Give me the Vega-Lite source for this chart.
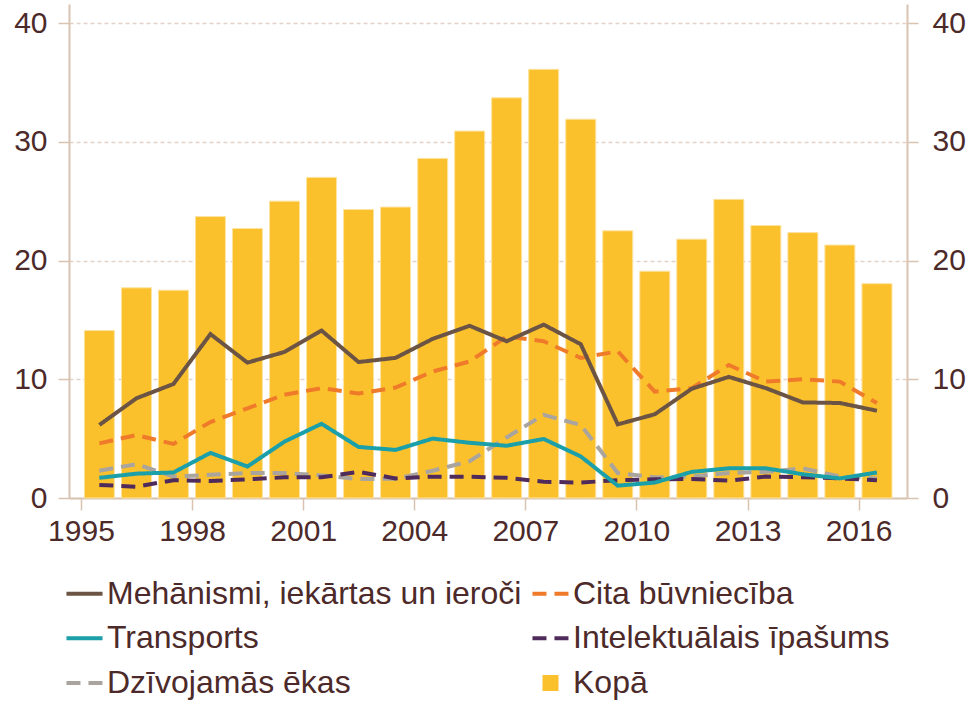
{
  "$schema": "https://vega.github.io/schema/vega-lite/v6.json",
  "width": 838,
  "height": 494,
  "autosize": {"type": "pad"},
  "padding": {"left": 13, "top": 4, "right": 0, "bottom": 0},
  "background": "white",
  "config": {
    "font": "Liberation Sans",
    "view": {"stroke": null},
    "axis": {
      "labelFont": "Liberation Sans",
      "labelFontSize": 30,
      "labelColor": "#4d2a2a",
      "domainColor": "#d9c3b1",
      "domainWidth": 2,
      "tickColor": "#d9c3b1",
      "tickWidth": 1.5,
      "tickSize": 11,
      "title": null,
      "gridColor": "#e3d2c5",
      "gridDash": [4, 3],
      "gridWidth": 1.5
    },
    "legend": {
      "orient": "none",
      "legendX": -5,
      "legendY": 569,
      "columns": 2,
      "columnPadding": 2,
      "rowPadding": 7.8,
      "labelFont": "Liberation Sans",
      "labelFontSize": 32,
      "labelColor": "#4d2a2a",
      "labelOffset": 2,
      "labelLimit": 0,
      "symbolStrokeWidth": 4,
      "symbolOpacity": 1,
      "padding": 0
    }
  },
  "data": {
    "values": [
      {"year": "1995-07-01", "series": "Kopā", "value": 14.1},
      {"year": "1996-07-01", "series": "Kopā", "value": 17.7},
      {"year": "1997-07-01", "series": "Kopā", "value": 17.5},
      {"year": "1998-07-01", "series": "Kopā", "value": 23.7},
      {"year": "1999-07-01", "series": "Kopā", "value": 22.7},
      {"year": "2000-07-01", "series": "Kopā", "value": 25.0},
      {"year": "2001-07-01", "series": "Kopā", "value": 27.0},
      {"year": "2002-07-01", "series": "Kopā", "value": 24.3},
      {"year": "2003-07-01", "series": "Kopā", "value": 24.5},
      {"year": "2004-07-01", "series": "Kopā", "value": 28.6},
      {"year": "2005-07-01", "series": "Kopā", "value": 30.9},
      {"year": "2006-07-01", "series": "Kopā", "value": 33.7},
      {"year": "2007-07-01", "series": "Kopā", "value": 36.1},
      {"year": "2008-07-01", "series": "Kopā", "value": 31.9},
      {"year": "2009-07-01", "series": "Kopā", "value": 22.5},
      {"year": "2010-07-01", "series": "Kopā", "value": 19.1},
      {"year": "2011-07-01", "series": "Kopā", "value": 21.8},
      {"year": "2012-07-01", "series": "Kopā", "value": 25.15},
      {"year": "2013-07-01", "series": "Kopā", "value": 22.95},
      {"year": "2014-07-01", "series": "Kopā", "value": 22.35},
      {"year": "2015-07-01", "series": "Kopā", "value": 21.3},
      {"year": "2016-07-01", "series": "Kopā", "value": 18.05},

      {"year": "1995-07-01", "series": "Dzīvojamās ēkas", "value": 2.3},
      {"year": "1996-07-01", "series": "Dzīvojamās ēkas", "value": 2.85},
      {"year": "1997-07-01", "series": "Dzīvojamās ēkas", "value": 1.8},
      {"year": "1998-07-01", "series": "Dzīvojamās ēkas", "value": 1.95},
      {"year": "1999-07-01", "series": "Dzīvojamās ēkas", "value": 2.1},
      {"year": "2000-07-01", "series": "Dzīvojamās ēkas", "value": 2.1},
      {"year": "2001-07-01", "series": "Dzīvojamās ēkas", "value": 1.9},
      {"year": "2002-07-01", "series": "Dzīvojamās ēkas", "value": 1.6},
      {"year": "2003-07-01", "series": "Dzīvojamās ēkas", "value": 1.62},
      {"year": "2004-07-01", "series": "Dzīvojamās ēkas", "value": 2.3},
      {"year": "2005-07-01", "series": "Dzīvojamās ēkas", "value": 3.1},
      {"year": "2006-07-01", "series": "Dzīvojamās ēkas", "value": 5.1},
      {"year": "2007-07-01", "series": "Dzīvojamās ēkas", "value": 7.0},
      {"year": "2008-07-01", "series": "Dzīvojamās ēkas", "value": 6.15},
      {"year": "2009-07-01", "series": "Dzīvojamās ēkas", "value": 2.1},
      {"year": "2010-07-01", "series": "Dzīvojamās ēkas", "value": 1.74},
      {"year": "2011-07-01", "series": "Dzīvojamās ēkas", "value": 1.8},
      {"year": "2012-07-01", "series": "Dzīvojamās ēkas", "value": 2.1},
      {"year": "2013-07-01", "series": "Dzīvojamās ēkas", "value": 2.2},
      {"year": "2014-07-01", "series": "Dzīvojamās ēkas", "value": 2.5},
      {"year": "2015-07-01", "series": "Dzīvojamās ēkas", "value": 1.8},
      {"year": "2016-07-01", "series": "Dzīvojamās ēkas", "value": 1.65},

      {"year": "1995-07-01", "series": "Intelektuālais īpašums", "value": 1.1},
      {"year": "1996-07-01", "series": "Intelektuālais īpašums", "value": 0.95},
      {"year": "1997-07-01", "series": "Intelektuālais īpašums", "value": 1.5},
      {"year": "1998-07-01", "series": "Intelektuālais īpašums", "value": 1.43},
      {"year": "1999-07-01", "series": "Intelektuālais īpašums", "value": 1.57},
      {"year": "2000-07-01", "series": "Intelektuālais īpašums", "value": 1.74},
      {"year": "2001-07-01", "series": "Intelektuālais īpašums", "value": 1.74},
      {"year": "2002-07-01", "series": "Intelektuālais īpašums", "value": 2.2},
      {"year": "2003-07-01", "series": "Intelektuālais īpašums", "value": 1.65},
      {"year": "2004-07-01", "series": "Intelektuālais īpašums", "value": 1.8},
      {"year": "2005-07-01", "series": "Intelektuālais īpašums", "value": 1.8},
      {"year": "2006-07-01", "series": "Intelektuālais īpašums", "value": 1.7},
      {"year": "2007-07-01", "series": "Intelektuālais īpašums", "value": 1.37},
      {"year": "2008-07-01", "series": "Intelektuālais īpašums", "value": 1.3},
      {"year": "2009-07-01", "series": "Intelektuālais īpašums", "value": 1.5},
      {"year": "2010-07-01", "series": "Intelektuālais īpašums", "value": 1.57},
      {"year": "2011-07-01", "series": "Intelektuālais īpašums", "value": 1.6},
      {"year": "2012-07-01", "series": "Intelektuālais īpašums", "value": 1.46},
      {"year": "2013-07-01", "series": "Intelektuālais īpašums", "value": 1.8},
      {"year": "2014-07-01", "series": "Intelektuālais īpašums", "value": 1.75},
      {"year": "2015-07-01", "series": "Intelektuālais īpašums", "value": 1.65},
      {"year": "2016-07-01", "series": "Intelektuālais īpašums", "value": 1.5},

      {"year": "1995-07-01", "series": "Cita būvniecība", "value": 4.6},
      {"year": "1996-07-01", "series": "Cita būvniecība", "value": 5.3},
      {"year": "1997-07-01", "series": "Cita būvniecība", "value": 4.55},
      {"year": "1998-07-01", "series": "Cita būvniecība", "value": 6.4},
      {"year": "1999-07-01", "series": "Cita būvniecība", "value": 7.55},
      {"year": "2000-07-01", "series": "Cita būvniecība", "value": 8.7},
      {"year": "2001-07-01", "series": "Cita būvniecība", "value": 9.25},
      {"year": "2002-07-01", "series": "Cita būvniecība", "value": 8.8},
      {"year": "2003-07-01", "series": "Cita būvniecība", "value": 9.3},
      {"year": "2004-07-01", "series": "Cita būvniecība", "value": 10.65},
      {"year": "2005-07-01", "series": "Cita būvniecība", "value": 11.5},
      {"year": "2006-07-01", "series": "Cita būvniecība", "value": 13.6},
      {"year": "2007-07-01", "series": "Cita būvniecība", "value": 13.2},
      {"year": "2008-07-01", "series": "Cita būvniecība", "value": 11.8},
      {"year": "2009-07-01", "series": "Cita būvniecība", "value": 12.35},
      {"year": "2010-07-01", "series": "Cita būvniecība", "value": 8.95},
      {"year": "2011-07-01", "series": "Cita būvniecība", "value": 9.25},
      {"year": "2012-07-01", "series": "Cita būvniecība", "value": 11.2},
      {"year": "2013-07-01", "series": "Cita būvniecība", "value": 9.8},
      {"year": "2014-07-01", "series": "Cita būvniecība", "value": 10.0},
      {"year": "2015-07-01", "series": "Cita būvniecība", "value": 9.8},
      {"year": "2016-07-01", "series": "Cita būvniecība", "value": 8.0},

      {"year": "1995-07-01", "series": "Transports", "value": 1.7},
      {"year": "1996-07-01", "series": "Transports", "value": 2.05},
      {"year": "1997-07-01", "series": "Transports", "value": 2.15},
      {"year": "1998-07-01", "series": "Transports", "value": 3.8},
      {"year": "1999-07-01", "series": "Transports", "value": 2.65},
      {"year": "2000-07-01", "series": "Transports", "value": 4.75},
      {"year": "2001-07-01", "series": "Transports", "value": 6.25},
      {"year": "2002-07-01", "series": "Transports", "value": 4.3},
      {"year": "2003-07-01", "series": "Transports", "value": 4.05},
      {"year": "2004-07-01", "series": "Transports", "value": 5.0},
      {"year": "2005-07-01", "series": "Transports", "value": 4.65},
      {"year": "2006-07-01", "series": "Transports", "value": 4.4},
      {"year": "2007-07-01", "series": "Transports", "value": 4.97},
      {"year": "2008-07-01", "series": "Transports", "value": 3.5},
      {"year": "2009-07-01", "series": "Transports", "value": 1.04},
      {"year": "2010-07-01", "series": "Transports", "value": 1.3},
      {"year": "2011-07-01", "series": "Transports", "value": 2.2},
      {"year": "2012-07-01", "series": "Transports", "value": 2.5},
      {"year": "2013-07-01", "series": "Transports", "value": 2.5},
      {"year": "2014-07-01", "series": "Transports", "value": 2.0},
      {"year": "2015-07-01", "series": "Transports", "value": 1.65},
      {"year": "2016-07-01", "series": "Transports", "value": 2.15},

      {"year": "1995-07-01", "series": "Mehānismi, iekārtas un ieroči", "value": 6.15},
      {"year": "1996-07-01", "series": "Mehānismi, iekārtas un ieroči", "value": 8.4},
      {"year": "1997-07-01", "series": "Mehānismi, iekārtas un ieroči", "value": 9.6},
      {"year": "1998-07-01", "series": "Mehānismi, iekārtas un ieroči", "value": 13.8},
      {"year": "1999-07-01", "series": "Mehānismi, iekārtas un ieroči", "value": 11.4},
      {"year": "2000-07-01", "series": "Mehānismi, iekārtas un ieroči", "value": 12.3},
      {"year": "2001-07-01", "series": "Mehānismi, iekārtas un ieroči", "value": 14.1},
      {"year": "2002-07-01", "series": "Mehānismi, iekārtas un ieroči", "value": 11.45},
      {"year": "2003-07-01", "series": "Mehānismi, iekārtas un ieroči", "value": 11.8},
      {"year": "2004-07-01", "series": "Mehānismi, iekārtas un ieroči", "value": 13.4},
      {"year": "2005-07-01", "series": "Mehānismi, iekārtas un ieroči", "value": 14.5},
      {"year": "2006-07-01", "series": "Mehānismi, iekārtas un ieroči", "value": 13.2},
      {"year": "2007-07-01", "series": "Mehānismi, iekārtas un ieroči", "value": 14.6},
      {"year": "2008-07-01", "series": "Mehānismi, iekārtas un ieroči", "value": 12.95},
      {"year": "2009-07-01", "series": "Mehānismi, iekārtas un ieroči", "value": 6.2},
      {"year": "2010-07-01", "series": "Mehānismi, iekārtas un ieroči", "value": 7.05},
      {"year": "2011-07-01", "series": "Mehānismi, iekārtas un ieroči", "value": 9.2},
      {"year": "2012-07-01", "series": "Mehānismi, iekārtas un ieroči", "value": 10.2},
      {"year": "2013-07-01", "series": "Mehānismi, iekārtas un ieroči", "value": 9.25},
      {"year": "2014-07-01", "series": "Mehānismi, iekārtas un ieroči", "value": 8.05},
      {"year": "2015-07-01", "series": "Mehānismi, iekārtas un ieroči", "value": 8.0},
      {"year": "2016-07-01", "series": "Mehānismi, iekārtas un ieroči", "value": 7.35}
    ]
  },
  "encoding": {
    "x": {
      "field": "year",
      "type": "temporal",
      "scale": {
        "type": "utc",
        "domain": [
          {"year": 1994, "month": 10, "date": 24, "utc": true},
          {"year": 2017, "month": 3, "date": 5, "utc": true}
        ]
      },
      "axis": {
        "values": [
          {"year": 1995, "utc": true},
          {"year": 1998, "utc": true},
          {"year": 2001, "utc": true},
          {"year": 2004, "utc": true},
          {"year": 2007, "utc": true},
          {"year": 2010, "utc": true},
          {"year": 2013, "utc": true},
          {"year": 2016, "utc": true}
        ],
        "format": "%Y",
        "formatType": "utc",
        "labelFlush": false,
        "labelOverlap": false,
        "grid": false,
        "tickSize": 12,
        "labelPadding": 6
      }
    },
    "color": {
      "field": "series",
      "type": "nominal",
      "scale": {
        "domain": ["Mehānismi, iekārtas un ieroči", "Transports", "Dzīvojamās ēkas", "Cita būvniecība", "Intelektuālais īpašums", "Kopā"],
        "range": ["#6b5444", "#1b9fa8", "#a9a49e", "#ef7b2a", "#4f2b5b", "#fbc12d"]
      },
      "legend": {
        "title": null,
        "symbolType": {"expr": "datum.value === 'Kopā' ? 'square' : 'stroke'"},
        "symbolSize": {"expr": "datum.value === 'Kopā' ? 144 : 1300"}
      }
    }
  },
  "layer": [
    {
      "transform": [{"filter": "datum.series === 'Kopā'"}],
      "mark": {"type": "bar", "size": 30, "stroke": "#fde3a0", "strokeWidth": 1},
      "encoding": {
        "y": {
          "field": "value",
          "type": "quantitative",
          "scale": {"domain": [0, 41.6], "nice": false, "zero": true},
          "axis": {
            "orient": "left",
            "values": [0, 10, 20, 30, 40],
            "grid": true,
            "labelPadding": 11
          }
        }
      }
    },
    {
      "transform": [{"filter": "datum.series !== 'Kopā'"}],
      "mark": {"type": "line", "strokeWidth": 4},
      "encoding": {
        "y": {
          "field": "value",
          "type": "quantitative",
          "scale": {"domain": [0, 41.6], "nice": false, "zero": true},
          "axis": {
            "orient": "right",
            "values": [0, 10, 20, 30, 40],
            "grid": false,
            "labelPadding": 14
          }
        },
        "strokeDash": {
          "field": "series",
          "type": "nominal",
          "scale": {
            "domain": ["Mehānismi, iekārtas un ieroči", "Transports", "Dzīvojamās ēkas", "Cita būvniecība", "Intelektuālais īpašums", "Kopā"],
            "range": [[1, 0], [1, 0], [14, 8], [14, 8], [14, 8], [200, 0]]
          },
          "legend": {
            "title": null,
            "symbolType": {"expr": "datum.value === 'Kopā' ? 'square' : 'stroke'"},
            "symbolSize": {"expr": "datum.value === 'Kopā' ? 144 : 1300"}
          }
        }
      }
    }
  ],
  "resolve": {"axis": {"y": "independent"}}
}
